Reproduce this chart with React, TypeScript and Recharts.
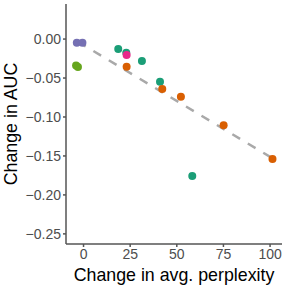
import React from 'react';
import { ScatterChart, Scatter, XAxis, YAxis, ReferenceLine } from 'recharts';

const purplePts = [
  { x: -3.6, y: -0.0047 },
  { x: -0.6, y: -0.0047 },
];
const limePts = [
  { x: -4.0, y: -0.034 },
  { x: -3.0, y: -0.036 },
];
const tealPts = [
  { x: 18.6, y: -0.0128 },
  { x: 22.9, y: -0.0176 },
  { x: 31.3, y: -0.028 },
  { x: 41.0, y: -0.0547 },
  { x: 58.3, y: -0.1756 },
];
const pinkPts = [{ x: 23.1, y: -0.0205 }];
const orangePts = [
  { x: 23.1, y: -0.0355 },
  { x: 42.2, y: -0.064 },
  { x: 52.2, y: -0.074 },
  { x: 75.1, y: -0.1107 },
  { x: 101.3, y: -0.154 },
];
const fitLine = [
  { x: -3, y: -0.0035 },
  { x: 101.3, y: -0.153 },
];

const xTicks = [0, 25, 50, 75, 100];
const yTicks = [0, -0.05, -0.1, -0.15, -0.2, -0.25];

const font = '"Liberation Sans", Arial, sans-serif';
const tickStyle = { fill: '#4d4d4d', fontSize: 14, fontFamily: font };

const App = () => {
  return (
    <div style={{ position: 'absolute', left: 0, top: 0 }}>
      <ScatterChart width={287} height={287} margin={{ top: 4, right: 5, bottom: 0, left: 0 }}>
        <XAxis
          type="number"
          dataKey="x"
          domain={[-9.4, 106.4]}
          ticks={xTicks}
          tick={tickStyle}
          tickSize={3}
          height={43}
          stroke="#555"
          strokeWidth={1.5}
          label={{ value: 'Change in avg. perplexity', position: 'insideBottom', offset: 6, fill: '#000', fontSize: 17.8, fontFamily: font }}
        />
        <YAxis
          type="number"
          dataKey="y"
          domain={[-0.263, 0.045]}
          ticks={yTicks}
          tickFormatter={(v: number) => v.toFixed(2).replace('-', '\u2212')}
          tick={tickStyle}
          tickSize={3}
          width={66}
          stroke="#555"
          strokeWidth={1.5}
          label={{ value: 'Change in AUC', angle: -90, position: 'insideLeft', offset: 11, style: { textAnchor: 'middle' }, fill: '#000', fontSize: 17.8, fontFamily: font }}
        />
        <Scatter data={purplePts} fill="#7570b3" shape={(p: any) => <circle cx={p.cx} cy={p.cy} r={4} fill="#7570b3" />} isAnimationActive={false} />
        <Scatter data={limePts} fill="#66a61e" shape={(p: any) => <circle cx={p.cx} cy={p.cy} r={4} fill="#66a61e" />} isAnimationActive={false} />
        <Scatter data={tealPts} fill="#1b9e77" shape={(p: any) => <circle cx={p.cx} cy={p.cy} r={4} fill="#1b9e77" />} isAnimationActive={false} />
        <Scatter data={pinkPts} fill="#e7298a" shape={(p: any) => <circle cx={p.cx} cy={p.cy} r={4} fill="#e7298a" />} isAnimationActive={false} />
        <Scatter data={orangePts} fill="#d95f02" shape={(p: any) => <circle cx={p.cx} cy={p.cy} r={4} fill="#d95f02" />} isAnimationActive={false} />
        <ReferenceLine segment={fitLine} stroke="#a9a9a9" strokeWidth={2.5} strokeDasharray="9 9" />
      </ScatterChart>
    </div>
  );
};

export default App;
